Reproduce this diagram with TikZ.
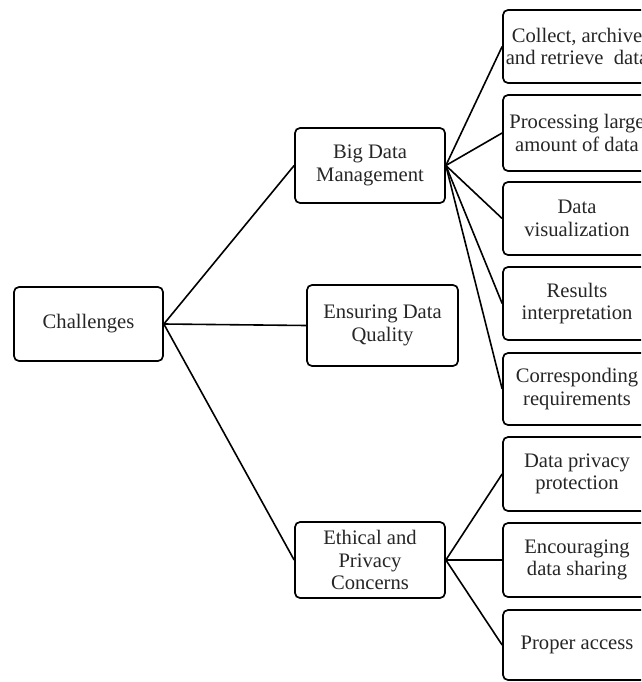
\documentclass[tikz,border=0pt]{standalone}
\usepackage{fontspec}
\setmainfont{Liberation Serif}
\begin{document}
\begin{tikzpicture}[x=1pt,y=-1pt,
  box/.style={draw=black, line width=1.7pt, rounded corners=5pt, align=center,
    inner sep=0pt, minimum width=150pt, minimum height=75pt,
    font=\fontsize{20.6}{22.5}\selectfont, text=black!85},
  link/.style={line width=1.6pt, black}]
\clip (0,0) rectangle (641,682);
\fill[white] (0,0) rectangle (641,682);
% level 0
\node[box, minimum width=149pt, minimum height=74pt] (ch) at (88.5,324) {Challenges};
% level 1
\node[box] (bdm) at (370,165.5) {Big Data\\Management};
\node[box, minimum width=151pt, minimum height=81pt] (edq) at (382.5,325.5) {Ensuring Data\\Quality};
\node[box, minimum height=76pt] (epc) at (370,560) {Ethical and\\Privacy\\Concerns};
% level 2
\node[box, minimum width=148pt, minimum height=73pt] (r1) at (577,46.5) {Collect, archive\\and retrieve\ \ data};
\node[box, minimum width=148pt, minimum height=76pt] (r2) at (577,133) {Processing large\\amount of data};
\node[box, minimum width=148pt, minimum height=73pt] (r3) at (577,218.5) {Data\\visualization};
\node[box, minimum width=148pt, minimum height=73pt] (r4) at (577,303.5) {Results\\interpretation};
\node[box, minimum width=148pt, minimum height=72pt] (r5) at (577,389) {Corresponding\\requirements};
\node[box, minimum width=148pt, minimum height=74pt] (r6) at (577,474) {Data privacy\\protection};
\node[box, minimum width=148pt, minimum height=74pt] (r7) at (577,560) {Encouraging\\data sharing};
\node[box, minimum width=148pt, minimum height=70pt] (r8) at (577,645) {Proper access};
% connectors
\draw[link] (ch.east) -- (bdm.west);
\draw[link] (ch.east) -- (edq.west);
\draw[link] (ch.east) -- (epc.west);
\foreach \n in {r1,r2,r3,r4,r5} \draw[link] (bdm.east) -- (\n.west);
\foreach \n in {r6,r7,r8} \draw[link] (epc.east) -- (\n.west);
\end{tikzpicture}
\end{document}
